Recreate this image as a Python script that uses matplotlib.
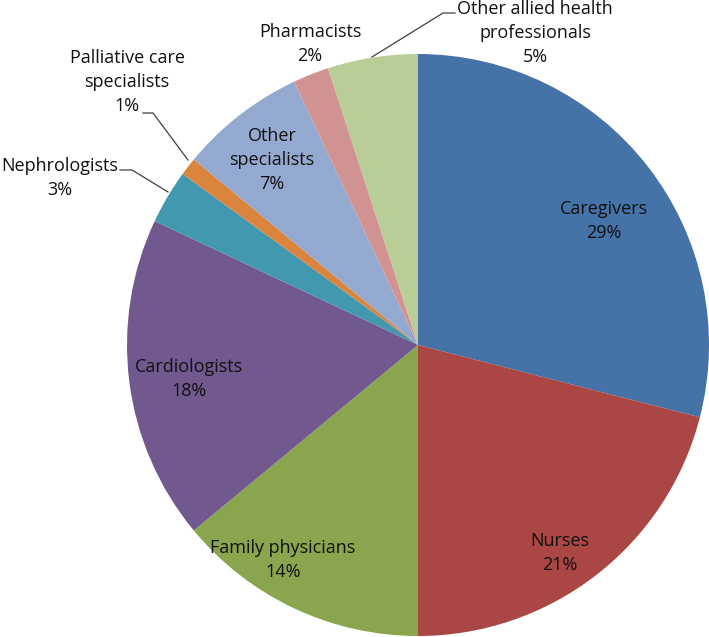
import matplotlib
matplotlib.use("Agg")
import matplotlib.pyplot as plt

categories = ["Caregivers", "Nurses", "Family physicians", "Cardiologists",
              "Nephrologists", "Palliative care specialists", "Other specialists",
              "Pharmacists", "Other allied health professionals"]
values = [29, 21, 14, 18, 3, 1, 7, 2, 5]
label_texts = ["Caregivers\n29%", "Nurses\n21%", "Family physicians\n14%",
               "Cardiologists\n18%", "Nephrologists\n3%",
               "Palliative care\nspecialists\n1%", "Other\nspecialists\n7%",
               "Pharmacists\n2%", "Other allied health\nprofessionals\n5%"]
colors = ["#4572A7", "#AA4643", "#89A54E", "#71588F", "#4198AF",
          "#DB843D", "#93A9CF", "#D19392", "#B9CD96"]

W, H = 709, 637
CX, CY, R = 418, 345, 291

def d(px, py):
    return ((px - CX) / R, (CY - py) / R)

fig = plt.figure(figsize=(W / 100, H / 100), dpi=100)
ax = fig.add_axes([0, 0, 1, 1])
ax.pie(values, colors=colors, startangle=90, counterclock=False,
       radius=1, wedgeprops=dict(linewidth=0))
ax.set_aspect("auto")
ax.set_xlim(d(0, 0)[0], d(W, 0)[0])
ax.set_ylim(d(0, H)[1], d(0, 0)[1])
ax.axis("off")

# label pixel centres
label_pos = [(604, 221), (560, 553), (283, 560), (189, 379), (60, 178),
             (127, 82), (272, 160), (310, 44), (535, 33)]
font = dict(family=["Open Sans", "DejaVu Sans"], fontsize=13.0, color="#111111")
for txt, (px, py) in zip(label_texts, label_pos):
    x, y = d(px, py)
    ax.text(x, y, txt, ha="center", va="center", linespacing=1.45, **font)

# leader lines
leaders = [
    [(120, 170), (132, 170), (168, 192)],
    [(143, 113), (153, 113), (188, 160)],
    [(455, 13), (443, 13), (372, 57)],
]
for pts in leaders:
    xs, ys = zip(*[d(px, py) for px, py in pts])
    ax.plot(xs, ys, color="#404040", linewidth=0.9)

fig.savefig("out.png", dpi=100)
